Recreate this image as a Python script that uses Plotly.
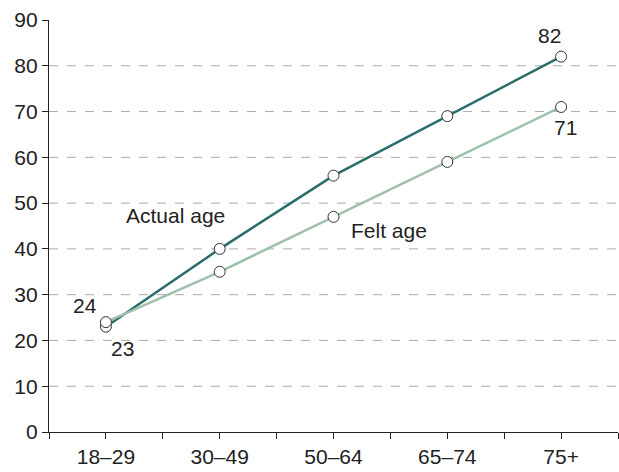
import plotly.graph_objects as go

categories = ["18–29", "30–49", "50–64", "65–74", "75+"]
actual_age = [23, 40, 56, 69, 82]
felt_age = [24, 35, 47, 59, 71]
y_ticks = [0, 10, 20, 30, 40, 50, 60, 70, 80, 90]

xs = list(range(len(categories)))
font = dict(family="Liberation Sans, Arial, sans-serif", size=21, color="#222222")

fig = go.Figure()
fig.add_trace(go.Scatter(x=xs, y=actual_age, mode="lines+markers",
                         line=dict(color="#2b6d6b", width=2.5),
                         marker=dict(size=11, color="white", line=dict(color="#333333", width=1)),
                         showlegend=False))
fig.add_trace(go.Scatter(x=xs, y=felt_age, mode="lines+markers",
                         line=dict(color="#9fc0aa", width=2.5),
                         marker=dict(size=11, color="white", line=dict(color="#333333", width=1)),
                         showlegend=False))

tickvals = [i * 0.5 - 0.5 for i in range(11)]
ticktext = [categories[int(v)] if v >= 0 and float(v).is_integer() else "" for v in tickvals]

fig.update_xaxes(range=[-0.5, 4.5], tickvals=tickvals, ticktext=ticktext, automargin=False,
                 showgrid=False, zeroline=False, showline=True, linecolor="#222", linewidth=1.2,
                 ticks="outside", ticklen=6, tickcolor="#222", tickfont=font)
fig.update_yaxes(range=[0, 90], tickvals=y_ticks, showgrid=False, zeroline=False, automargin=False,
                 showline=True, linecolor="#222", linewidth=1.2,
                 ticks="outside", ticklen=6, tickcolor="#222", tickfont=font)

for v in y_ticks[1:-1]:
    fig.add_shape(type="line", xref="paper", yref="y", x0=0, x1=1, y0=v, y1=v,
                  line=dict(color="#aaaaaa", width=1, dash="dash"), layer="below")

annots = [
    ("Actual age", 0.61, 47.4),
    ("Felt age", 2.49, 44.1),
    ("24", -0.18, 27.7),
    ("23", 0.15, 18.3),
    ("82", 3.9, 86.6),
    ("71", 4.04, 66.6),
]
for t, x, y in annots:
    fig.add_annotation(x=x, y=y, text=t, showarrow=False, font=font, xref="x", yref="y")

fig.update_layout(width=619, height=472, plot_bgcolor="white", paper_bgcolor="white",
                  margin=dict(l=49, r=1, t=20, b=40), font=font)
fig.write_html("out.html", config={"displayModeBar": False},
               post_script="document.body.style.margin='0';document.body.style.overflow='hidden';")
